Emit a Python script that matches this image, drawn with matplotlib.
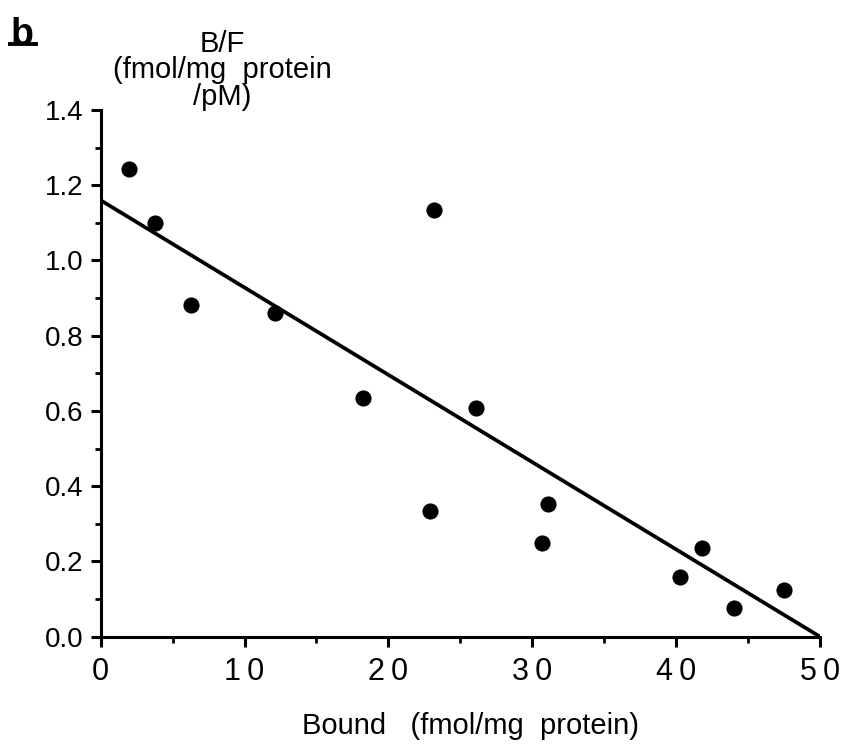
import matplotlib.pyplot as plt
from matplotlib.lines import Line2D
from matplotlib.ticker import MultipleLocator

plt.rcParams['font.family'] = ['Liberation Sans', 'DejaVu Sans']

# Scatchard data: bound vs bound/free
bound = [2.0, 3.8, 6.3, 12.1, 18.2, 23.2, 26.1, 22.9, 31.1, 30.7, 41.8, 40.3, 44.0, 47.5]
bf_ratio = [1.244, 1.10, 0.881, 0.861, 0.635, 1.134, 0.607, 0.334, 0.353, 0.248, 0.235, 0.159, 0.077, 0.124]

# fitted line: B/F = intercept * (1 - B / bmax)
fit_intercept = 1.16
fit_bmax = 50.0

x_ticks = [0, 10, 20, 30, 40, 50]
x_tick_labels = ['0', '1\u20090', '2\u20090', '3\u20090', '4\u20090', '5\u20090']
y_ticks = [0.0, 0.2, 0.4, 0.6, 0.8, 1.0, 1.2, 1.4]

fig = plt.figure(figsize=(8.44, 7.56), dpi=100)
ax = fig.add_axes([0.1193, 0.1578, 0.8523, 0.6967])

ax.scatter(bound, bf_ratio, s=135, color='black', zorder=3, linewidths=0)
ax.plot([0, fit_bmax], [fit_intercept, 0], color='black', lw=2.7, solid_capstyle='butt')

ax.set_xlim(0, 50)
ax.set_ylim(0, 1.4)

for side in ['top', 'right']:
    ax.spines[side].set_visible(False)
for side in ['left', 'bottom']:
    ax.spines[side].set_linewidth(2.2)

ax.set_xticks(x_ticks)
ax.set_xticklabels(x_tick_labels)
ax.set_yticks(y_ticks)
ax.set_yticklabels([f'{v:.1f}' for v in y_ticks])
ax.xaxis.set_minor_locator(MultipleLocator(5))
ax.yaxis.set_minor_locator(MultipleLocator(0.1))

ax.tick_params(axis='both', which='major', direction='out', length=7.5, width=2.2)
ax.tick_params(axis='both', which='minor', direction='out', length=4.5, width=2.0)
ax.tick_params(axis='x', which='major', labelsize=22, pad=7)
ax.tick_params(axis='y', which='major', labelsize=20, pad=5)

# axis titles
fig.text(0.263, 0.907, 'B/F\n(fmol/mg  protein\n/pM)', ha='center', va='center',
         fontsize=21, linespacing=0.92)
fig.text(0.557, 0.040, 'Bound   (fmol/mg  protein)', ha='center', va='center', fontsize=21)

# panel letter
fig.text(0.012, 0.978, 'b', ha='left', va='top', fontsize=27, fontweight='bold')
fig.add_artist(Line2D([0.012, 0.043], [0.942, 0.942], color='black', lw=2.8))

fig.savefig('out.png', dpi=100)
